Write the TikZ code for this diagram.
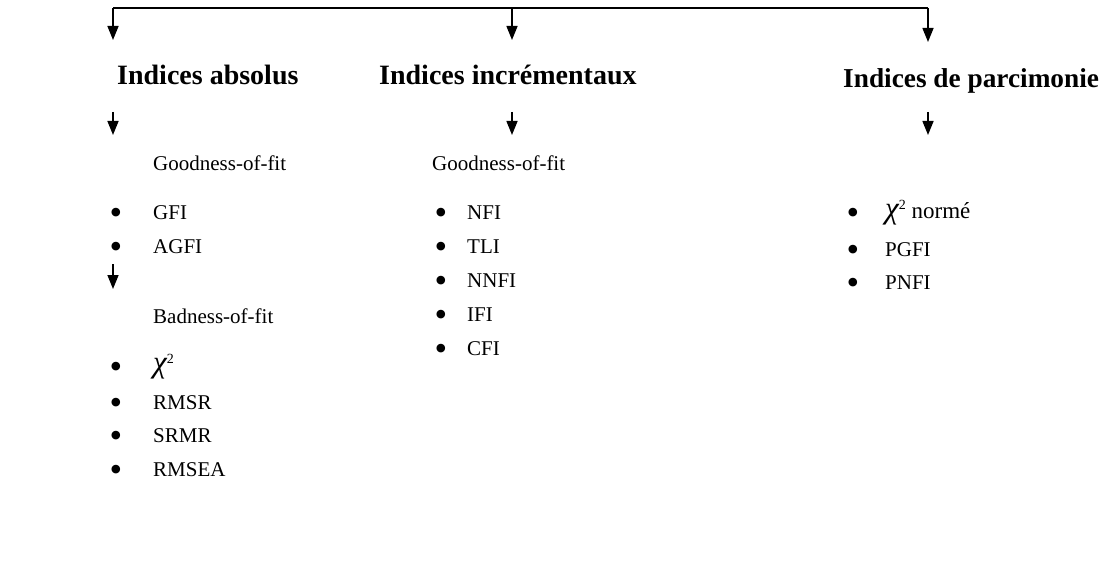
\documentclass[tikz,border=0pt]{standalone}
\usepackage{fontspec}
\setmainfont{Liberation Serif}
\usetikzlibrary{arrows.meta}
\begin{document}
\begin{tikzpicture}[x=1pt,y=-1pt,
  conn/.style={line width=1.5pt,-{Triangle[width=11pt,length=14pt]}},
  head/.style={anchor=west,inner sep=0pt,font=\fontsize{28}{31}\selectfont\bfseries},
  body/.style={anchor=west,inner sep=0pt,font=\fontsize{21}{24}\selectfont},
  dot/.style={anchor=center,inner sep=0pt,yshift=-3pt,font=\fontsize{36}{38}\selectfont}]
\useasboundingbox (0,0) rectangle (1101,583);
\newcommand{\chisq}{{\fontsize{31}{33}\selectfont\itshape χ}\raisebox{9pt}{\fontsize{14}{16}\selectfont 2}}

% top distribution line
\coordinate (tl) at (113,8);
\coordinate (tm) at (512,8);
\coordinate (tr) at (928,8);
\draw[line width=1.8pt] (tl) -- (tr);
\coordinate (al) at (113,40);
\coordinate (am) at (512,40);
\coordinate (ar) at (928,42);
\draw[conn] (tl) -- (al);
\draw[conn] (tm) -- (am);
\draw[conn] (tr) -- (ar);

% headings
\node[head] (h1) at (117,75) {Indices absolus};
\node[head] (h2) at (379,75) {Indices incrémentaux};
\node[head,font=\fontsize{27.3}{30}\selectfont\bfseries] (h3) at (843,81) {Indices de parcimonie};

% arrows below headings
\coordinate (s1) at (113,112);
\coordinate (e1) at (113,135);
\coordinate (s2) at (512,112);
\coordinate (e2) at (512,135);
\coordinate (s3) at (928,112);
\coordinate (e3) at (928,135);
\draw[conn] (s1) -- (e1);
\draw[conn] (s2) -- (e2);
\draw[conn] (s3) -- (e3);

% absolute indices
\node[body] (g1) at (153,163) {Goodness-of-fit};
\node[dot] (b11) at (116,213) {•}; \node[body] (gfi) at (153,213) {GFI};
\node[dot] (b12) at (116,247) {•}; \node[body] (agfi) at (153,247) {AGFI};
\coordinate (s4) at (113,264);
\coordinate (e4) at (113,289);
\draw[conn] (s4) -- (e4);
\node[body] (bf) at (153,316) {Badness-of-fit};
\node[dot] (b21) at (116,367) {•}; \node[body] (chi) at (153,367) {\chisq};
\node[dot] (b22) at (116,403) {•}; \node[body] (rmsr) at (153,403) {RMSR};
\node[dot] (b23) at (116,436) {•}; \node[body] (srmr) at (153,436) {SRMR};
\node[dot] (b24) at (116,470) {•}; \node[body] (rmsea) at (153,470) {RMSEA};

% incremental indices
\node[body] (g2) at (432,163) {Goodness-of-fit};
\node[dot] (c1) at (441,213) {•}; \node[body] (nfi) at (467,213) {NFI};
\node[dot] (c2) at (441,247) {•}; \node[body] (tli) at (467,247) {TLI};
\node[dot] (c3) at (441,281) {•}; \node[body] (nnfi) at (467,281) {NNFI};
\node[dot] (c4) at (441,315) {•}; \node[body] (ifi) at (467,315) {IFI};
\node[dot] (c5) at (441,349) {•}; \node[body] (cfi) at (467,349) {CFI};

% parsimony indices
\node[dot] (p1) at (853,213) {•}; \node[body,font=\fontsize{23}{26}\selectfont] (chin) at (885,213) {\chisq\ normé};
\node[dot] (p2) at (853,250) {•}; \node[body] (pgfi) at (885,250) {PGFI};
\node[dot] (p3) at (853,283) {•}; \node[body] (pnfi) at (885,283) {PNFI};
\end{tikzpicture}
\end{document}
